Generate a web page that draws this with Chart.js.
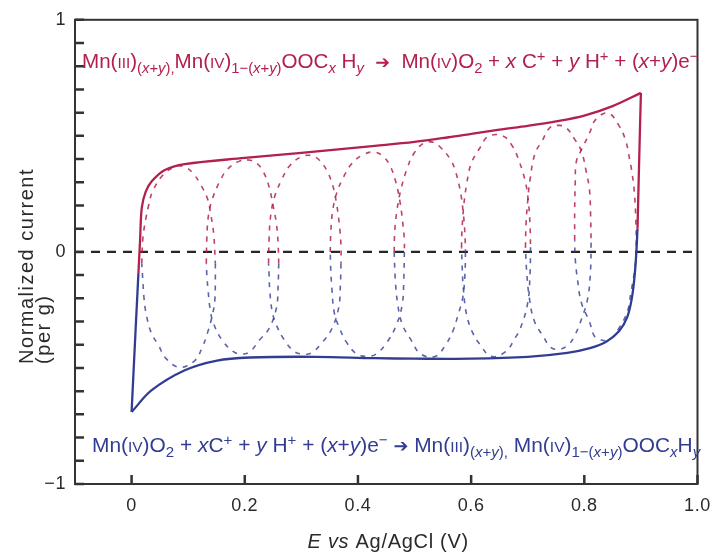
<!DOCTYPE html>
<html><head><meta charset="utf-8">
<script src="https://cdn.jsdelivr.net/npm/chart.js@4/dist/chart.umd.min.js"></script>
<style>html,body{margin:0;padding:0;background:#fff;overflow:hidden}</style>
</head><body>
<canvas id="c" width="721" height="556"></canvas>
<script>
// ---------- data ----------
const xTickValues = [0, 0.2, 0.4, 0.6, 0.8, 1.0];
const xTickLabels = ['0', '0.2', '0.4', '0.6', '0.8', '1.0'];
const yTickValues = [-1,-0.9,-0.8,-0.7,-0.6,-0.5,-0.4,-0.3,-0.2,-0.1,0,0.1,0.2,0.3,0.4,0.5,0.6,0.7,0.8,0.9,1];
const yLabelValues = [-1, 0, 1];
const yLabelTexts = ['\u22121', '0', '1'];
const zeroLine = [[-0.1, 0], [1.0, 0]];

// outer (full window) CV: anodic = red, cathodic = blue
const outerAnodicSweep = [[0.012,-0.095],[0.015,0.05],[0.018,0.19],[0.025,0.26],[0.036,0.305],[0.058,0.352],[0.094,0.378],[0.2,0.405],[0.3,0.427],[0.43,0.457],[0.5,0.474],[0.56,0.494],[0.603,0.51],[0.65,0.527],[0.7,0.543],[0.75,0.562],[0.8,0.587],[0.85,0.628],[0.9,0.685]];
const outerAnodicTurn = [[0.9,0.685],[0.897,0.4],[0.894,0.1]];
const outerCathodicSweep = [[0.894,0.1],[0.892,0.0],[0.889,-0.1],[0.884,-0.2],[0.876,-0.28],[0.862,-0.34],[0.84,-0.385],[0.81,-0.415],[0.77,-0.435],[0.7,-0.452],[0.6,-0.46],[0.5,-0.46],[0.43,-0.458],[0.325,-0.452],[0.209,-0.455],[0.151,-0.468],[0.094,-0.51],[0.035,-0.597],[0.0,-0.69]];
const outerCathodicTurn = [[0.0,-0.69],[0.007,-0.34],[0.012,-0.095]];

// narrow-window CV loops (dashed)
const loop1Anodic = [[0.018,-0.05],[0.02,0.06],[0.025,0.14],[0.03,0.2],[0.037,0.26],[0.055,0.33],[0.078,0.368],[0.095,0.365],[0.108,0.34],[0.122,0.29],[0.134,0.23],[0.14,0.16],[0.145,0.08],[0.148,-0.05]];
const loop1Cathodic = [[0.148,-0.05],[0.148,-0.12],[0.147,-0.21],[0.143,-0.27],[0.134,-0.35],[0.125,-0.41],[0.111,-0.47],[0.085,-0.497],[0.061,-0.46],[0.047,-0.40],[0.035,-0.35],[0.026,-0.27],[0.022,-0.2],[0.02,-0.13],[0.018,-0.05]];
const loop2Anodic = [[0.132,-0.05],[0.133,0.06],[0.136,0.16],[0.143,0.23],[0.155,0.30],[0.169,0.355],[0.19,0.39],[0.21,0.395],[0.222,0.38],[0.233,0.345],[0.243,0.28],[0.25,0.2],[0.256,0.12],[0.259,0.03],[0.26,-0.05]];
const loop2Cathodic = [[0.26,-0.05],[0.259,-0.14],[0.256,-0.24],[0.243,-0.33],[0.226,-0.38],[0.209,-0.43],[0.195,-0.44],[0.18,-0.43],[0.16,-0.38],[0.145,-0.31],[0.139,-0.25],[0.135,-0.16],[0.133,-0.1],[0.132,-0.05]];
const loop3Anodic = [[0.242,-0.05],[0.243,0.06],[0.246,0.16],[0.253,0.24],[0.265,0.31],[0.279,0.37],[0.3,0.41],[0.318,0.415],[0.332,0.395],[0.344,0.355],[0.355,0.29],[0.362,0.21],[0.367,0.12],[0.37,0.03],[0.37,-0.05]];
const loop3Cathodic = [[0.37,-0.05],[0.369,-0.14],[0.366,-0.24],[0.354,-0.33],[0.337,-0.39],[0.318,-0.435],[0.303,-0.44],[0.288,-0.43],[0.27,-0.38],[0.255,-0.31],[0.248,-0.25],[0.244,-0.16],[0.243,-0.1],[0.242,-0.05]];
const loop4Anodic = [[0.351,0.0],[0.352,0.08],[0.355,0.17],[0.362,0.25],[0.374,0.32],[0.389,0.38],[0.41,0.42],[0.43,0.43],[0.445,0.41],[0.457,0.37],[0.467,0.3],[0.474,0.22],[0.479,0.13],[0.482,0.05],[0.482,0.0]];
const loop4Cathodic = [[0.482,0.0],[0.481,-0.12],[0.478,-0.23],[0.467,-0.32],[0.451,-0.39],[0.432,-0.44],[0.415,-0.45],[0.398,-0.44],[0.38,-0.39],[0.366,-0.32],[0.358,-0.26],[0.354,-0.16],[0.352,-0.08],[0.351,0.0]];
const loop5Anodic = [[0.464,0.0],[0.465,0.09],[0.469,0.18],[0.476,0.27],[0.487,0.36],[0.499,0.425],[0.517,0.47],[0.533,0.472],[0.546,0.45],[0.563,0.40],[0.572,0.35],[0.581,0.26],[0.586,0.17],[0.589,0.08],[0.59,0.0]];
const loop5Cathodic = [[0.59,0.0],[0.589,-0.1],[0.585,-0.2],[0.577,-0.27],[0.568,-0.34],[0.555,-0.40],[0.537,-0.45],[0.511,-0.44],[0.494,-0.38],[0.478,-0.31],[0.47,-0.22],[0.466,-0.12],[0.464,0.0]];
const loop6Anodic = [[0.583,0.02],[0.584,0.1],[0.587,0.2],[0.592,0.29],[0.6,0.38],[0.616,0.45],[0.63,0.497],[0.656,0.5],[0.673,0.455],[0.685,0.39],[0.696,0.30],[0.701,0.22],[0.704,0.12],[0.705,0.02]];
const loop6Cathodic = [[0.705,0.02],[0.704,-0.1],[0.7,-0.22],[0.687,-0.33],[0.678,-0.37],[0.661,-0.43],[0.635,-0.45],[0.616,-0.40],[0.603,-0.35],[0.592,-0.27],[0.586,-0.15],[0.584,-0.05],[0.583,0.02]];
const loop7Anodic = [[0.696,0.02],[0.697,0.12],[0.7,0.22],[0.704,0.31],[0.713,0.425],[0.725,0.476],[0.739,0.535],[0.755,0.545],[0.768,0.535],[0.783,0.485],[0.795,0.433],[0.803,0.35],[0.809,0.27],[0.811,0.17],[0.812,0.04]];
const loop7Cathodic = [[0.812,0.04],[0.811,-0.08],[0.806,-0.2],[0.795,-0.29],[0.783,-0.36],[0.772,-0.40],[0.755,-0.42],[0.74,-0.41],[0.729,-0.37],[0.712,-0.3],[0.703,-0.2],[0.698,-0.08],[0.696,0.02]];
const loop8Anodic = [[0.783,0.05],[0.783,0.18],[0.784,0.3],[0.786,0.39],[0.795,0.44],[0.809,0.51],[0.82,0.57],[0.842,0.598],[0.861,0.545],[0.873,0.48],[0.88,0.40],[0.885,0.33],[0.889,0.24],[0.891,0.14],[0.892,0.05]];
const loop8Cathodic = [[0.892,0.05],[0.89,-0.06],[0.882,-0.18],[0.877,-0.25],[0.861,-0.33],[0.843,-0.38],[0.825,-0.375],[0.817,-0.36],[0.809,-0.30],[0.795,-0.22],[0.788,-0.12],[0.784,-0.03],[0.783,0.05]];

const loopsAnodic = [loop1Anodic, loop2Anodic, loop3Anodic, loop4Anodic, loop5Anodic, loop6Anodic, loop7Anodic, loop8Anodic];
const loopsCathodic = [loop1Cathodic, loop2Cathodic, loop3Cathodic, loop4Cathodic, loop5Cathodic, loop6Cathodic, loop7Cathodic, loop8Cathodic];

// ---------- styling ----------
const RED = '#b2214c', BLUE = '#323d92';
const RED_D = 'rgba(178,33,76,0.85)', BLUE_D = 'rgba(50,61,146,0.8)';
const FONT = '"Liberation Sans", Arial, Helvetica, sans-serif';
const AXIS = '#333333';
const TXT = '#2a2a2a';

const toXY = a => a.map(p => ({x: p[0], y: p[1]}));
const solid = (d, c) => ({data: toXY(d), showLine: true, borderColor: c, borderWidth: 2.3, pointRadius: 0, tension: 0.35, fill: false});
const dashed = (d, c) => ({data: toXY(d), showLine: true, borderColor: c, borderWidth: 1.6, borderDash: [5, 6], pointRadius: 0, tension: 0.4, fill: false});

const datasets = [
  solid(outerAnodicSweep, RED), solid(outerAnodicTurn, RED),
  solid(outerCathodicSweep, BLUE), solid(outerCathodicTurn, BLUE),
];
loopsAnodic.forEach(l => datasets.push(dashed(l, RED_D)));
loopsCathodic.forEach(l => datasets.push(dashed(l, BLUE_D)));
datasets.push({data: toXY(zeroLine), showLine: true, borderColor: '#262626', borderWidth: 2.4, borderDash: [9, 7], pointRadius: 0, tension: 0});

// ---------- rich text ----------
const eqOx = [
  {t:'Mn('},{t:'III',k:'sc'},{t:')'},{t:'(',k:'sub'},{t:'x',k:'sub',i:1},{t:'+',k:'sub'},{t:'y',k:'sub',i:1},{t:'),',k:'sub'},
  {t:'Mn('},{t:'IV',k:'sc'},{t:')'},{t:'1\u2212(',k:'sub'},{t:'x',k:'sub',i:1},{t:'+',k:'sub'},{t:'y',k:'sub',i:1},{t:')',k:'sub'},
  {t:'OOC'},{t:'x',k:'sub',i:1},{t:' H'},{t:'y',k:'sub',i:1},{t:'  '},{t:'\u2794',k:'arrow'},{t:'  Mn('},{t:'IV',k:'sc'},{t:')O'},{t:'2',k:'sub'},
  {t:' + '},{t:'x',i:1},{t:' C'},{t:'+',k:'sup'},{t:' + '},{t:'y',i:1},{t:' H'},{t:'+',k:'sup'},{t:' + ('},{t:'x',i:1},{t:'+'},{t:'y',i:1},{t:')e'},{t:'\u2212',k:'sup'}
];
const eqRed = [
  {t:'Mn('},{t:'IV',k:'sc'},{t:')O'},{t:'2',k:'sub'},{t:' + '},{t:'x',i:1},{t:'C'},{t:'+',k:'sup'},{t:' + '},{t:'y',i:1},{t:' H'},{t:'+',k:'sup'},
  {t:' + ('},{t:'x',i:1},{t:'+'},{t:'y',i:1},{t:')e'},{t:'\u2212',k:'sup'},{t:' '},{t:'\u2794',k:'arrow'},{t:' Mn('},{t:'III',k:'sc'},{t:')'},
  {t:'(',k:'sub'},{t:'x',k:'sub',i:1},{t:'+',k:'sub'},{t:'y',k:'sub',i:1},{t:'),',k:'sub'},{t:' Mn('},{t:'IV',k:'sc'},{t:')'},
  {t:'1\u2212(',k:'sub'},{t:'x',k:'sub',i:1},{t:'+',k:'sub'},{t:'y',k:'sub',i:1},{t:')',k:'sub'},{t:'OOC'},{t:'x',k:'sub',i:1},{t:'H'},{t:'y',k:'sub',i:1}
];
const xTitle = [{t:'E',i:1},{t:' '},{t:'vs',i:1},{t:' Ag/AgCl (V)'}];
const yTitleLines = ['Normalized current', '(per g)'];

function segFont(s, F) {
  let sz = F, fam = FONT;
  if (s.k === 'sub' || s.k === 'sup') sz = F * 0.72;
  else if (s.k === 'sc') sz = F * 0.74;
  else if (s.k === 'arrow') { sz = F * 0.85; fam = '"DejaVu Sans", sans-serif'; }
  return (s.i ? 'italic ' : '') + sz.toFixed(2) + 'px ' + fam;
}
function segDy(s, F) {
  if (s.k === 'sub') return F * 0.24;
  if (s.k === 'sup') return -F * 0.34;
  if (s.k === 'arrow') return -F * 0.01;
  return 0;
}
function richWidth(ctx, segs, F) {
  let w = 0;
  segs.forEach(s => { ctx.font = segFont(s, F); w += ctx.measureText(s.t).width; });
  return w;
}
function drawRich(ctx, segs, x, y, F, color) {
  ctx.fillStyle = color; ctx.textBaseline = 'alphabetic'; ctx.textAlign = 'left';
  segs.forEach(s => { ctx.font = segFont(s, F); ctx.fillText(s.t, x, y + segDy(s, F)); x += ctx.measureText(s.t).width; });
}
function fitSize(ctx, segs, width) { return 20 * width / richWidth(ctx, segs, 20); }

const decor = {
  id: 'decor',
  beforeDraw(chart) { chart.ctx.letterSpacing = '0.6px'; },
  afterDraw(chart) {
    const {ctx, chartArea: a, scales: {x, y}} = chart;
    ctx.save();
    // frame
    ctx.strokeStyle = AXIS; ctx.lineWidth = 2;
    ctx.strokeRect(a.left, a.top, a.right - a.left, a.bottom - a.top);
    // inward ticks
    ctx.lineWidth = 2.5; ctx.beginPath();
    xTickValues.forEach(v => { const px = x.getPixelForValue(v); ctx.moveTo(px, a.bottom); ctx.lineTo(px, a.bottom - 9); });
    yTickValues.forEach(v => { const py = y.getPixelForValue(v); ctx.moveTo(a.left, py); ctx.lineTo(a.left + 9, py); });
    ctx.stroke();
    // equations
    ctx.letterSpacing = '0px';
    const F1 = fitSize(ctx, eqOx, a.right - a.left - 6);
    drawRich(ctx, eqOx, a.left + 7, a.top + 48, F1, RED);
    const F2 = fitSize(ctx, eqRed, a.right - a.left - 14);
    drawRich(ctx, eqRed, a.left + 17, a.bottom - 32, F2, BLUE);
    // axis titles
    ctx.letterSpacing = '0.7px';
    const tw = richWidth(ctx, xTitle, 20);
    drawRich(ctx, xTitle, (a.left + a.right) / 2 - tw / 2 + 2, a.bottom + 64, 20, TXT);
    ctx.save();
    ctx.translate(33, a.top + (a.bottom - a.top) / 2 + 112);
    ctx.rotate(-Math.PI / 2);
    ctx.font = '20px ' + FONT; ctx.fillStyle = TXT; ctx.textAlign = 'left'; ctx.textBaseline = 'alphabetic';
    ctx.letterSpacing = '1.5px';
    ctx.fillText(yTitleLines[0], 0, 0);
    ctx.fillText(yTitleLines[1], 0, 17);
    ctx.restore();
    ctx.restore();
  }
};

new Chart(document.getElementById('c'), {
  type: 'scatter',
  data: {datasets},
  options: {
    responsive: false, animation: false, devicePixelRatio: 1,
    layout: {padding: {top: 18, right: 13, left: 0, bottom: 0}},
    plugins: {legend: {display: false}, tooltip: {enabled: false}},
    scales: {
      x: {
        type: 'linear', min: -0.1, max: 1.0,
        grid: {display: false, drawTicks: false}, border: {display: false},
        afterBuildTicks: s => { s.ticks = xTickValues.map(v => ({value: v})); },
        afterFit: s => { s.height = 72; },
        ticks: {autoSkip: false, maxRotation: 0, padding: 11, color: TXT, font: {size: 18, family: FONT},
          callback: v => { const i = xTickValues.findIndex(t => Math.abs(t - v) < 1e-9); return i >= 0 ? xTickLabels[i] : ''; }}
      },
      y: {
        type: 'linear', min: -1, max: 1,
        grid: {display: false, drawTicks: false}, border: {display: false},
        afterBuildTicks: s => { s.ticks = yTickValues.map(v => ({value: v})); },
        afterFit: s => { s.width = 75; },
        ticks: {autoSkip: false, padding: 9, color: TXT, font: {size: 18, family: FONT},
          callback: v => { const i = yLabelValues.findIndex(t => Math.abs(t - v) < 1e-9); return i >= 0 ? yLabelTexts[i] : ''; }}
      }
    }
  },
  plugins: [decor]
});
</script>
</body></html>
